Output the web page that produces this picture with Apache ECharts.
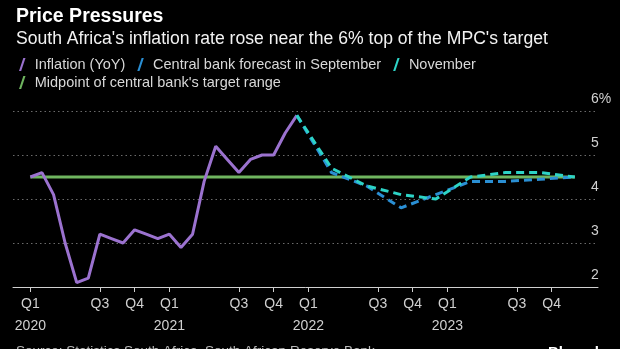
<!DOCTYPE html>
<html>
<head>
<meta charset="utf-8">
<style>
  html, body { margin: 0; padding: 0; background: #000; }
  #chart { width: 620px; height: 349px; }
</style>
<script src="https://cdn.jsdelivr.net/npm/echarts@6/dist/echarts.min.js"></script>
</head>
<body>
<div id="chart"></div>
<script>
// Months are counted from January 2020 (0) to December 2023 (47).
const inflationMonths = [0,1,2,3,4,5,6,7,8,9,10,11,12,13,14,15,16,17,18,19,20,21,22,23];
const inflationValues = [4.5,4.6,4.1,3.0,2.1,2.2,3.2,3.1,3.0,3.3,3.2,3.1,3.2,2.9,3.2,4.4,5.2,4.9,4.6,4.9,5.0,5.0,5.5,5.9];

// Central bank forecasts, quarterly (last month of each quarter), joined to the last print
const forecastMonths = [23,26,29,32,35,38,41,44,47];
const septemberForecast = [5.9,4.6,4.3,3.8,4.1,4.4,4.4,4.45,4.5];
const novemberForecast  = [5.9,4.7,4.3,4.1,4.0,4.5,4.6,4.6,4.5];

// Midpoint of the 3-6% target range
const targetMonths = [0,47];
const targetMidpoint = [4.5,4.5];

// Quarter ticks along the time axis
const tickMonths = [0,6,9,12,18,21,24,30,33,36,42,45];
const tickLabels = ['Q1\n2020','Q3','Q4','Q1\n2021','Q3','Q4','Q1\n2022','Q3','Q4','Q1\n2023','Q3','Q4'];

const FONT = 'Liberation Sans';
const pair = (xs, ys) => xs.map((x, i) => [x, ys[i]]);
const slash = 'path://M0,12 L4,0 L6,0 L2,12 Z';

const chart = echarts.init(document.getElementById('chart'), null, { renderer: 'canvas' });

const legendText = { color: '#d8d8d8', fontSize: 14.5, fontFamily: FONT, padding: [0, 0, 0, 4] };

chart.setOption({
  backgroundColor: '#000',
  animation: false,
  textStyle: { fontFamily: FONT },
  title: [
    { text: 'Price Pressures', left: 11, top: 2,
      textStyle: { color: '#fff', fontSize: 19.5, fontWeight: 'bold', fontFamily: FONT } },
    { text: "South Africa's inflation rate rose near the 6% top of the MPC's target", left: 11, top: 25,
      textStyle: { color: '#f2f2f2', fontSize: 17.6, fontWeight: 'normal', fontFamily: FONT } },
    { text: 'Source: Statistics South Africa, South African Reserve Bank', left: 11, top: 339,
      textStyle: { color: '#bbb', fontSize: 13.5, fontWeight: 'normal', fontFamily: FONT } },
    { text: 'Bloomberg', left: 543, top: 340,
      textStyle: { color: '#fff', fontSize: 15, fontWeight: 'bold', fontFamily: FONT } }
  ],
  legend: [
    { data: ['Inflation (YoY)', 'Central bank forecast in September', 'November'],
      left: 14, top: 52, itemWidth: 7, itemHeight: 13, itemGap: 12,
      icon: slash, textStyle: legendText },
    { data: ['Midpoint of central bank\'s target range'],
      left: 14, top: 70, itemWidth: 7, itemHeight: 13,
      icon: slash, textStyle: legendText }
  ],
  grid: { left: 13, right: 22, top: 111, bottom: 62 },
  xAxis: {
    type: 'value',
    min: -1.5,
    max: 49,
    splitLine: { show: false },
    axisLine: { show: true, lineStyle: { color: '#d0d0d0', width: 1 } },
    axisTick: { show: true, customValues: tickMonths, length: 5, lineStyle: { color: '#d0d0d0' } },
    axisLabel: {
      customValues: tickMonths,
      color: '#d0d0d0', fontSize: 14, fontFamily: FONT, lineHeight: 22, margin: 6,
      formatter: v => tickLabels[tickMonths.indexOf(v)]
    }
  },
  yAxis: {
    type: 'value',
    position: 'right',
    min: 2, max: 6, interval: 1,
    axisLine: { show: false },
    axisTick: { show: false },
    splitLine: { show: true, lineStyle: { color: '#6a6a6a', type: [1.5, 3], width: 1 } },
    axisLabel: {
      color: '#d0d0d0', fontSize: 14, fontFamily: FONT,
      align: 'left', verticalAlign: 'bottom', margin: -7, padding: [0, 0, 5, 0],
      formatter: v => (v === 6 ? '6%' : String(v))
    }
  },
  series: [
    { name: 'Midpoint of central bank\'s target range', type: 'line', data: pair(targetMonths, targetMidpoint),
      symbol: 'none', color: '#6fb55f', lineStyle: { width: 3, color: '#6fb55f' }, z: 2 },
    { name: 'Inflation (YoY)', type: 'line', data: pair(inflationMonths, inflationValues),
      symbol: 'none', color: '#9b72cf', lineStyle: { width: 3, color: '#9b72cf' }, z: 3 },
    { name: 'Central bank forecast in September', type: 'line', data: pair(forecastMonths, septemberForecast),
      symbol: 'none', color: '#2a8fd4', lineStyle: { width: 3, color: '#2a8fd4', type: [8, 5] }, z: 4 },
    { name: 'November', type: 'line', data: pair(forecastMonths, novemberForecast),
      symbol: 'none', color: '#2dd3c6', lineStyle: { width: 3, color: '#2dd3c6', type: [8, 5] }, z: 5 }
  ]
});
</script>
</body>
</html>
